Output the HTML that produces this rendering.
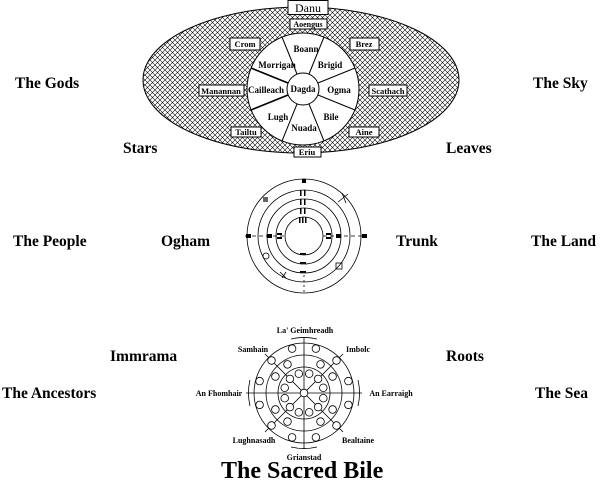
<!DOCTYPE html>
<html><head><style>
html,body{margin:0;padding:0;background:#fff;width:600px;height:489px;overflow:hidden}
svg{display:block}
text{font-family:"Liberation Serif",serif;font-weight:bold;fill:#000}
.l{font-size:15.5px}
.s{font-size:9px}
</style></head><body>
<svg width="600" height="489" viewBox="0 0 600 489" xmlns="http://www.w3.org/2000/svg">
<defs>
<pattern id="h" width="5" height="5" patternUnits="userSpaceOnUse">
<rect width="5" height="5" fill="#fff"/>
<path d="M0 0L5 5M5 0L0 5" stroke="#000" stroke-width="0.55"/>
</pattern>
</defs>
<text class="l" x="15" y="88">The Gods</text>
<text class="l" x="533" y="88">The Sky</text>
<text class="l" x="123" y="153">Stars</text>
<text class="l" x="446" y="153">Leaves</text>
<text class="l" x="13" y="246">The People</text>
<text class="l" x="161" y="246">Ogham</text>
<text class="l" x="396" y="246">Trunk</text>
<text class="l" x="531" y="246">The Land</text>
<text class="l" x="110" y="361">Immrama</text>
<text class="l" x="446" y="361">Roots</text>
<text class="l" x="2" y="398">The Ancestors</text>
<text class="l" x="535" y="398">The Sea</text>
<text x="221" y="478" style="font-size:24px">The Sacred Bile</text>

<ellipse cx="301" cy="80" rx="158" ry="73" fill="url(#h)" stroke="#000" stroke-width="1"/>
<circle cx="303" cy="89" r="56" fill="#fff" stroke="#000"/>
<g stroke="#000" stroke-width="1">
<line x1="297" y1="74" x2="282" y2="37"/>
<line x1="309" y1="74" x2="324" y2="37"/>
<line x1="318" y1="83" x2="355" y2="68"/>
<line x1="318" y1="95" x2="355" y2="110"/>
<line x1="309" y1="104" x2="324" y2="141"/>
<line x1="297" y1="104" x2="282" y2="141"/>
<line x1="288" y1="95" x2="251" y2="110" stroke-width="1.6"/>
<line x1="288" y1="83" x2="251" y2="68" stroke-width="1.6"/>
</g>
<circle cx="303" cy="89" r="16" fill="#fff" stroke="#000"/>
<g text-anchor="middle">
<text x="303" y="92" class="s">Dagda</text>
<text x="306" y="52" class="s">Boann</text>
<text x="330" y="68" class="s">Brigid</text>
<text x="339" y="93" class="s">Ogma</text>
<text x="331" y="120" class="s">Bile</text>
<text x="304" y="131" class="s">Nuada</text>
<text x="278" y="120" class="s">Lugh</text>
<text x="266" y="93" class="s">Cailleach</text>
<text x="277" y="68" class="s">Morrigan</text>
</g>
<g fill="#fff" stroke="#000" stroke-width="1">
<rect x="288" y="0.5" width="40" height="14"/>
<rect x="290" y="19" width="37" height="10"/>
<rect x="230" y="38" width="30" height="12"/>
<rect x="350" y="38" width="29" height="12"/>
<rect x="199" y="85" width="45" height="11"/>
<rect x="369" y="85" width="38" height="11"/>
<rect x="231" y="127" width="30" height="10"/>
<rect x="349" y="127" width="30" height="10"/>
<rect x="294" y="147" width="27" height="10"/>
</g>
<g text-anchor="middle">
<text x="308" y="12" style="font-size:12px;font-weight:normal">Danu</text>
<text x="308" y="27" style="font-size:8px">Aoengus</text>
<text x="245" y="47" style="font-size:8.5px">Crom</text>
<text x="364" y="47" style="font-size:8.5px">Brez</text>
<text x="221" y="94" style="font-size:8.5px">Manannan</text>
<text x="388" y="94" style="font-size:8.5px">Scathach</text>
<text x="246" y="135" style="font-size:8.5px">Tailtu</text>
<text x="364" y="135" style="font-size:8.5px">Aine</text>
<text x="307" y="155" style="font-size:8.5px">Eriu</text>
</g>

<g fill="none" stroke="#000" stroke-width="0.8">
<circle cx="304" cy="236" r="57"/>
<circle cx="304" cy="236" r="46"/>
<circle cx="304" cy="236" r="37"/>
<circle cx="304" cy="236" r="28"/>
<circle cx="304" cy="236" r="19"/>
<line x1="245" y1="236" x2="285" y2="236" stroke-dasharray="4 3"/>
<line x1="323" y1="236" x2="365" y2="236" stroke-dasharray="4 3"/>
<line x1="304" y1="275" x2="304" y2="293" stroke-dasharray="2 3"/>
<path d="M338 202l10-8M342 193l4 10"/>
<circle cx="266" cy="256" r="3"/>
<rect x="336" y="263" width="6" height="6"/>
<path d="M280 272l6 6M282 278l4-6"/>
</g>
<g fill="#000">
<rect x="302" y="179" width="4" height="4"/>
<rect x="246" y="234" width="5" height="4"/>
<rect x="362" y="234" width="5" height="4"/>
<rect x="267" y="234" width="5" height="4"/>
<rect x="277" y="233" width="5" height="2"/><rect x="277" y="237" width="5" height="2"/>
<rect x="326" y="233" width="5" height="2"/><rect x="326" y="237" width="5" height="2"/>
<rect x="336" y="234" width="5" height="4"/>
<rect x="300" y="190" width="1.5" height="6"/><rect x="304" y="190" width="1.5" height="6"/>
<rect x="300" y="199" width="1.5" height="6"/><rect x="304" y="199" width="1.5" height="6"/>
<rect x="300" y="208" width="1.5" height="6"/><rect x="304" y="208" width="1.5" height="6"/>
<rect x="299" y="217" width="1.5" height="6"/><rect x="302" y="217" width="1.5" height="6"/><rect x="305" y="217" width="1.5" height="6"/>
<rect x="300" y="253" width="6" height="1.5"/><rect x="300" y="262" width="6" height="1.5"/><rect x="300" y="271" width="6" height="1.5"/>
<rect x="263" y="197" width="5" height="5" opacity="0.6"/>
</g>

<g fill="none" stroke="#000" stroke-width="0.8">
<circle cx="304" cy="393" r="50"/>
<circle cx="304" cy="393" r="38"/>
<circle cx="304" cy="393" r="26"/>
<line x1="246" y1="393" x2="362" y2="393"/>
<line x1="304" y1="337" x2="304" y2="449"/>
<line x1="265" y1="354" x2="343" y2="432"/>
<line x1="265" y1="432" x2="343" y2="354"/>
<path d="M250 380 A56 56 0 0 0 250 406"/>
<path d="M358 380 A56 56 0 0 1 358 406"/>
<path d="M291 339 A56 56 0 0 1 317 339"/>
<path d="M291 447 A56 56 0 0 0 317 447"/>
</g>
<g fill="#fff" stroke="#000" stroke-width="0.8">
<circle cx="304" cy="393" r="3.8"/>
<circle cx="348.4" cy="404.9" r="3.8"/><circle cx="336.5" cy="425.5" r="3.8"/><circle cx="315.9" cy="437.4" r="3.8"/><circle cx="292.1" cy="437.4" r="3.8"/><circle cx="271.5" cy="425.5" r="3.8"/><circle cx="259.6" cy="404.9" r="3.8"/><circle cx="259.6" cy="381.1" r="3.8"/><circle cx="271.5" cy="360.5" r="3.8"/><circle cx="292.1" cy="348.6" r="3.8"/><circle cx="315.9" cy="348.6" r="3.8"/><circle cx="336.5" cy="360.5" r="3.8"/><circle cx="348.4" cy="381.1" r="3.8"/>
<circle cx="332.6" cy="409.5" r="3.8"/><circle cx="320.5" cy="421.6" r="3.8"/><circle cx="287.5" cy="421.6" r="3.8"/><circle cx="275.4" cy="409.5" r="3.8"/><circle cx="275.4" cy="376.5" r="3.8"/><circle cx="287.5" cy="364.4" r="3.8"/><circle cx="320.5" cy="364.4" r="3.8"/><circle cx="332.6" cy="376.5" r="3.8"/>
<circle cx="323.3" cy="398.2" r="3.8"/><circle cx="318.1" cy="407.1" r="3.8"/><circle cx="309.2" cy="412.3" r="3.8"/><circle cx="298.8" cy="412.3" r="3.8"/><circle cx="289.9" cy="407.1" r="3.8"/><circle cx="284.7" cy="398.2" r="3.8"/><circle cx="284.7" cy="387.8" r="3.8"/><circle cx="289.9" cy="378.9" r="3.8"/><circle cx="298.8" cy="373.7" r="3.8"/><circle cx="309.2" cy="373.7" r="3.8"/><circle cx="318.1" cy="378.9" r="3.8"/><circle cx="323.3" cy="387.8" r="3.8"/>
</g>
<g text-anchor="middle" style="font-size:8px">
<text x="305" y="333">La' Geimhreadh</text>
<text x="253" y="352">Samhain</text>
<text x="358" y="352">Imbolc</text>
<text x="219" y="396">An Fhomhair</text>
<text x="391" y="396">An Earraigh</text>
<text x="254" y="443">Lughnasadh</text>
<text x="358" y="443">Bealtaine</text>
<text x="304" y="460">Grianstad</text>
</g>
</svg>
</body></html>
